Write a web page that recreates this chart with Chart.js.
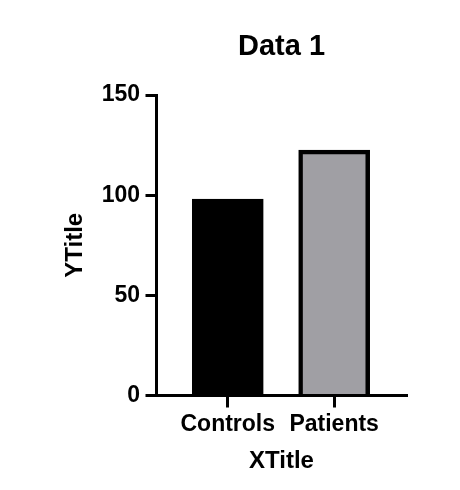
<!DOCTYPE html>
<html>
<head>
<meta charset="utf-8">
<script src="https://cdn.jsdelivr.net/npm/chart.js@4/dist/chart.umd.min.js"></script>
<style>
  html, body { margin: 0; padding: 0; background: #fff; }
  #wrap { width: 460px; height: 490px; position: relative; }
</style>
</head>
<body>
<div id="wrap"><canvas id="chart"></canvas></div>
<script>
// Chart data
const categories = ['Controls', 'Patients'];
const values = [98, 122.5];
const barColors = ['#000000', '#a09fa4'];
const yTicks = [0, 50, 100, 150];

const FONT = '"Liberation Sans", Arial, sans-serif';

// bars sit on a linear x scale so the category spacing matches the original
const points = categories.map((c, i) => ({ x: i + 1, y: values[i] }));

const ctx = document.getElementById('chart').getContext('2d');
new Chart(ctx, {
    type: 'bar',
    data: {
        datasets: [{
            data: points,
            backgroundColor: barColors,
            borderColor: '#000000',
            borderWidth: 4.5,
            borderSkipped: 'bottom',
            barThickness: 71
        }]
    },
    options: {
        responsive: true,
        maintainAspectRatio: false,
        animation: false,
        layout: {
            autoPadding: false,
            padding: { left: 0, right: 53.5, top: 0, bottom: 0 }
        },
        plugins: {
            legend: { display: false },
            tooltip: { enabled: false },
            title: {
                display: true,
                text: 'Data 1',
                fullSize: false,
                color: '#000',
                font: { family: FONT, size: 29, weight: 'bold' },
                padding: { top: 29.6, bottom: 30.6 }
            }
        },
        scales: {
            x: {
                type: 'linear',
                min: 0.33,
                max: 2.68,
                offset: false,
                afterFit: s => { s.height = 94.5; },
                afterBuildTicks: s => { s.ticks = categories.map((c, i) => ({ value: i + 1 })); },
                grid: { offset: false, drawOnChartArea: false, color: '#000', lineWidth: 3, tickLength: 12 },
                border: { display: true, color: '#000', width: 3 },
                ticks: {
                    color: '#000',
                    padding: 3.5,
                    font: { family: FONT, size: 23, weight: 'bold' },
                    callback: v => categories[v - 1] || ''
                },
                title: {
                    display: true,
                    text: 'XTitle',
                    color: '#000',
                    font: { family: FONT, size: 24, weight: 'bold' },
                    padding: { top: 0, bottom: 14.6 }
                }
            },
            y: {
                min: 0,
                max: 150,
                afterFit: s => { s.width = 156.5; },
                afterBuildTicks: s => { s.ticks = yTicks.map(v => ({ value: v })); },
                grid: { drawOnChartArea: false, color: '#000', lineWidth: 3, tickLength: 11 },
                border: { display: true, color: '#000', width: 3 },
                ticks: {
                    color: '#000',
                    padding: 5.5,
                    font: { family: FONT, size: 23, weight: 'bold' }
                },
                title: {
                    display: true,
                    text: 'YTitle',
                    color: '#000',
                    font: { family: FONT, size: 24, weight: 'bold' },
                    padding: { top: 60.6, bottom: 0 }
                }
            }
        }
    }
});
</script>
</body>
</html>
